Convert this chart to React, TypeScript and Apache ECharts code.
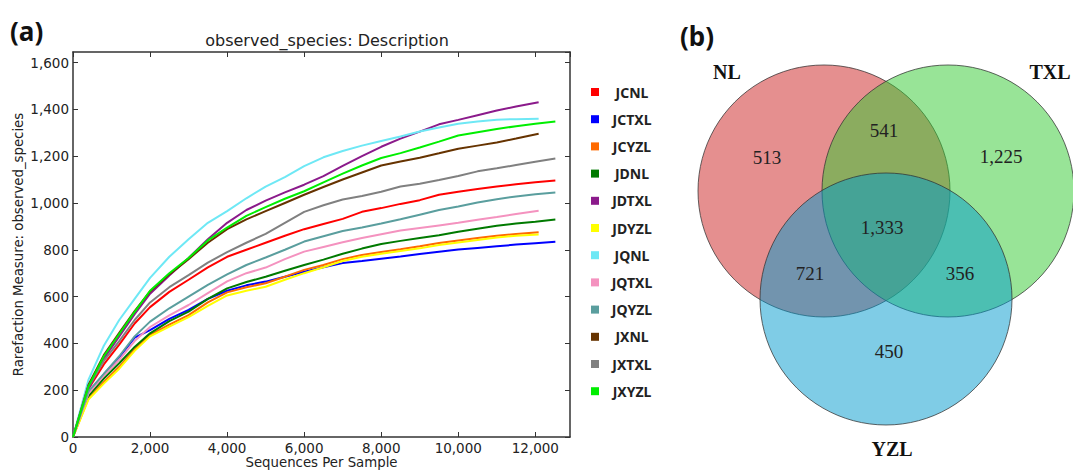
import React, { useEffect, useRef } from "react";
import * as echarts from "echarts";

// ---------- (a) rarefaction data ----------
const seqSteps = [0, 400, 800, 1200, 1600, 2000, 2500, 3000, 3500, 4000, 4500, 5000, 5500, 6000, 6500, 7000, 7500, 8000, 8500, 9000, 9500, 10000, 10500, 11000, 11500];
const shortRunX = [...seqSteps, 12086];
const longRunX = [...seqSteps, 12000, 12520];

const JCNL = [0, 205, 310, 395, 485, 555, 620, 672, 725, 770, 800, 830, 860, 888, 910, 932, 962, 978, 996, 1012, 1035, 1048, 1060, 1070, 1080, 1088, 1096];
const JCTXL = [0, 190, 268, 340, 425, 457, 505, 543, 590, 625, 648, 664, 685, 706, 725, 743, 752, 762, 771, 782, 792, 801, 808, 815, 822, 828, 834];
const JCYZL = [0, 165, 235, 300, 375, 436, 480, 521, 575, 618, 640, 657, 685, 714, 735, 760, 778, 790, 802, 815, 829, 840, 850, 860, 867, 875];
const JDNL = [0, 175, 250, 315, 385, 443, 495, 536, 590, 635, 662, 685, 710, 735, 758, 783, 805, 825, 838, 850, 862, 877, 890, 903, 912, 920, 929];
const JDTXL = [0, 205, 335, 430, 525, 612, 690, 765, 845, 915, 970, 1010, 1045, 1078, 1115, 1158, 1200, 1240, 1275, 1305, 1336, 1355, 1375, 1395, 1412, 1430];
const JDYZL = [0, 160, 228, 292, 368, 430, 472, 512, 560, 605, 625, 642, 672, 700, 725, 752, 770, 783, 795, 806, 820, 831, 842, 852, 860, 865];
const JQNL = [0, 244, 390, 500, 590, 680, 770, 845, 915, 965, 1020, 1070, 1110, 1157, 1195, 1222, 1245, 1265, 1284, 1305, 1322, 1338, 1348, 1356, 1358, 1360];
const JQTXL = [0, 185, 262, 330, 410, 470, 520, 564, 615, 665, 700, 724, 760, 792, 812, 832, 850, 866, 882, 893, 904, 915, 928, 940, 953, 967];
const JQYZL = [0, 195, 270, 345, 430, 493, 550, 600, 650, 695, 735, 767, 800, 835, 858, 880, 895, 912, 930, 950, 970, 985, 1002, 1016, 1028, 1037, 1045];
const JXNL = [0, 222, 350, 445, 538, 622, 695, 760, 830, 888, 930, 965, 1000, 1035, 1068, 1100, 1130, 1160, 1177, 1193, 1212, 1232, 1245, 1258, 1275, 1296];
const JXTXL = [0, 215, 325, 410, 500, 575, 640, 692, 745, 790, 830, 868, 915, 962, 990, 1015, 1030, 1048, 1070, 1082, 1098, 1115, 1135, 1148, 1162, 1176, 1190];
const JXYZL = [0, 215, 345, 440, 535, 625, 700, 765, 840, 895, 945, 982, 1018, 1050, 1088, 1125, 1160, 1192, 1213, 1237, 1262, 1288, 1302, 1316, 1328, 1338, 1348];

const sampleNames = ["JCNL", "JCTXL", "JCYZL", "JDNL", "JDTXL", "JDYZL", "JQNL", "JQTXL", "JQYZL", "JXNL", "JXTXL", "JXYZL"];
const sampleValues = [JCNL, JCTXL, JCYZL, JDNL, JDTXL, JDYZL, JQNL, JQTXL, JQYZL, JXNL, JXTXL, JXYZL];
const sampleRunX = [longRunX, longRunX, shortRunX, longRunX, shortRunX, shortRunX, shortRunX, shortRunX, longRunX, shortRunX, longRunX, longRunX];
const sampleColors = ["#ff0000", "#0000ff", "#ff6a00", "#007a00", "#8b1a8b", "#ffff00", "#6ee8f5", "#f492bf", "#5a9e9e", "#663300", "#808080", "#00ee00"];

const chartTitle = "observed_species: Description";
const xAxisTitle = "Sequences Per Sample";
const yAxisTitle = "Rarefaction Measure: observed_species";

// ---------- (b) Venn data ----------
const vennSetNames = ["NL", "TXL", "YZL"];
const vennRegions = ["NL", "NL∩TXL", "TXL", "NL∩TXL∩YZL", "NL∩YZL", "TXL∩YZL", "YZL"];
const vennCounts = [513, 541, 1225, 1333, 721, 356, 450];

// ---------- layout (not data) ----------
const vennCircleLayout = [
  { cx: 824, cy: 191, r: 126 },
  { cx: 948, cy: 191, r: 126 },
  { cx: 886, cy: 299, r: 126 },
];
const vennFills = ["rgba(204,31,31,0.5)", "rgba(49,201,47,0.5)", "rgba(0,153,205,0.5)"];
const vennSetLabelPos = [
  { x: 727, y: 72 },
  { x: 1050, y: 72 },
  { x: 892, y: 449 },
];
const vennRegionLabelPos = [
  { x: 767, y: 157 },
  { x: 884, y: 130 },
  { x: 1001, y: 156 },
  { x: 882, y: 227 },
  { x: 810, y: 273 },
  { x: 960, y: 273 },
  { x: 889, y: 351 },
];

const fmt = (v: number) => v.toLocaleString("en-US");
const axisColor = "#333";
const textColor = "#222";
const sans = "DejaVu Sans";

export default function App() {
  const ref = useRef<HTMLDivElement>(null);

  useEffect(() => {
    document.body.style.margin = "0";
    if (!ref.current) return;
    const chart = echarts.init(ref.current, null, { renderer: "svg" });

    const series = sampleNames.map((name, i) => ({
      name,
      type: "line",
      xAxisIndex: 0,
      yAxisIndex: 0,
      showSymbol: false,
      symbol: "none",
      lineStyle: { width: 2, color: sampleColors[i] },
      itemStyle: { color: sampleColors[i] },
      data: sampleRunX[i].map((x, j) => [x, sampleValues[i][j]]),
    }));

    const baseAxisLine = { show: true, onZero: false, lineStyle: { color: axisColor, width: 1.5 } };
    const baseTick = { show: true, inside: true, length: 5, lineStyle: { color: axisColor, width: 1 } };

    const graphics: any[] = [];
    vennCircleLayout.forEach((c, i) => {
      graphics.push({
        type: "circle",
        shape: { cx: c.cx, cy: c.cy, r: c.r },
        style: { fill: vennFills[i], stroke: "rgba(50,50,50,0.75)", lineWidth: 1 },
        z: 10 + i,
      });
    });
    vennSetNames.forEach((n, i) => {
      graphics.push({
        type: "text",
        x: vennSetLabelPos[i].x,
        y: vennSetLabelPos[i].y,
        z: 20,
        style: {
          text: n,
          align: "center",
          verticalAlign: "middle",
          fill: "#111",
          font: "bold 20px 'Liberation Serif'",
        },
      });
    });
    vennCounts.forEach((v, i) => {
      graphics.push({
        type: "text",
        x: vennRegionLabelPos[i].x,
        y: vennRegionLabelPos[i].y,
        z: 20,
        name: vennRegions[i],
        style: {
          text: fmt(v),
          align: "center",
          verticalAlign: "middle",
          fill: "#222",
          font: "19px 'Liberation Serif'",
        },
      });
    });
    graphics.push({
      type: "text",
      x: 10,
      y: 31,
      z: 20,
      style: { text: "(a)", verticalAlign: "middle", fill: "#111", font: "bold 26px 'Noto Sans'" },
    });
    graphics.push({
      type: "text",
      x: 680,
      y: 36,
      z: 20,
      style: { text: "(b)", verticalAlign: "middle", fill: "#111", font: "bold 26px 'Noto Sans'" },
    });

    chart.setOption({
      animation: false,
      backgroundColor: "#ffffff",
      title: {
        text: chartTitle,
        left: 322,
        textAlign: "center",
        top: 27,
        textStyle: { fontFamily: sans, fontSize: 16, fontWeight: "normal", color: textColor },
      },
      legend: {
        orient: "vertical",
        left: 586,
        top: 80,
        itemWidth: 8,
        itemHeight: 8,
        itemGap: 13.2,
        icon: "rect",
        data: sampleNames,
        formatter: "{a|{name}}",
        textStyle: {
          rich: {
            a: {
              width: 56,
              align: "center",
              lineHeight: 16,
              fontFamily: "Noto Sans",
              fontWeight: "bold",
              fontSize: 14,
              color: "#222",
            },
          },
        },
      },
      grid: { left: 73, right: 503, top: 52, bottom: 34, containLabel: false, outerBoundsMode: "none" },
      xAxis: [
        {
          type: "value",
          position: "bottom",
          min: 0,
          max: 12900,
          interval: 2000,
          axisLine: baseAxisLine,
          axisTick: baseTick,
          splitLine: { show: false },
          axisLabel: {
            formatter: fmt,
            margin: 4,
            showMaxLabel: false,
            fontFamily: sans,
            fontSize: 13.5,
            color: textColor,
          },
          name: xAxisTitle,
          nameLocation: "middle",
          nameGap: 19,
          nameMoveOverlap: false,
          nameTextStyle: { fontFamily: sans, fontSize: 13.3, color: textColor },
        },
        {
          type: "value",
          position: "top",
          min: 0,
          max: 12900,
          interval: 2000,
          axisLine: baseAxisLine,
          axisTick: baseTick,
          splitLine: { show: false },
          axisLabel: { show: false },
        },
      ],
      yAxis: [
        {
          type: "value",
          position: "left",
          min: 0,
          max: 1645,
          interval: 200,
          axisLine: baseAxisLine,
          axisTick: baseTick,
          splitLine: { show: false },
          axisLabel: {
            formatter: fmt,
            margin: 4,
            showMaxLabel: false,
            fontFamily: sans,
            fontSize: 13.5,
            color: textColor,
          },
          name: yAxisTitle,
          nameLocation: "middle",
          nameGap: 48,
          nameMoveOverlap: false,
          nameTextStyle: { fontFamily: sans, fontSize: 13.3, color: textColor },
        },
        {
          type: "value",
          position: "right",
          min: 0,
          max: 1645,
          interval: 200,
          axisLine: baseAxisLine,
          axisTick: baseTick,
          splitLine: { show: false },
          axisLabel: { show: false },
        },
      ],
      series,
      graphic: graphics,
    });

    return () => chart.dispose();
  }, []);

  return <div ref={ref} style={{ width: 1073, height: 471 }} />;
}
